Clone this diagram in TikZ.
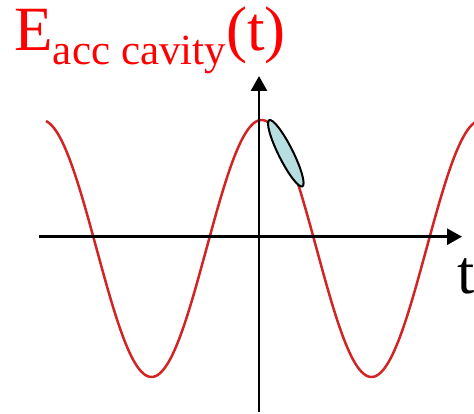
\documentclass[tikz,border=0pt]{standalone}
\usepackage{fontspec}
\setmainfont{Liberation Serif}
\usetikzlibrary{arrows.meta}
\definecolor{titlered}{RGB}{255,0,0}
\definecolor{curvered}{RGB}{210,36,36}
\definecolor{bunchfill}{RGB}{183,223,226}
\tikzset{
  axis/.style={line width=2.8pt, -{Triangle[length=15pt,width=16pt]}},
  wave/.style={curvered, line width=2.5pt},
  bunch/.style={draw=black, line width=2pt, fill=bunchfill},
  lbl/.style={inner sep=0pt, outer sep=0pt}
}
\begin{document}
\begin{tikzpicture}[x=1pt,y=-1pt]
\useasboundingbox (0,0) rectangle (474,414);
% curve
\begin{scope}
\clip (0,0) rectangle (474,414);
\draw[wave, smooth, samples=200, domain=46:476, variable=\x]
  plot ({\x},{248.5-128.5*cos((\x-261.5)/220*360)});
\end{scope}
% axes
\coordinate (xs) at (39,236.7);
\coordinate (xe) at (462,236.7);
\coordinate (ys) at (259,412);
\coordinate (ye) at (259,76);
\draw[axis] (xs) -- (xe);
\draw[axis] (ys) -- (ye);
% bunch
\draw[bunch, rotate around={-63.4:(285.8,153.3)}] (285.8,153.3) ellipse [x radius=37, y radius=7.2];
% labels
\node[lbl, anchor=base west, text=titlered] (title) at (14.5,51)
  {\fontsize{63}{63}\selectfont E\raisebox{-14pt}{\fontsize{43}{43}\selectfont acc cavity}(t)};
\node[lbl, anchor=base west] (tl) at (457,293) {\fontsize{62}{62}\selectfont t};
\end{tikzpicture}
\end{document}
